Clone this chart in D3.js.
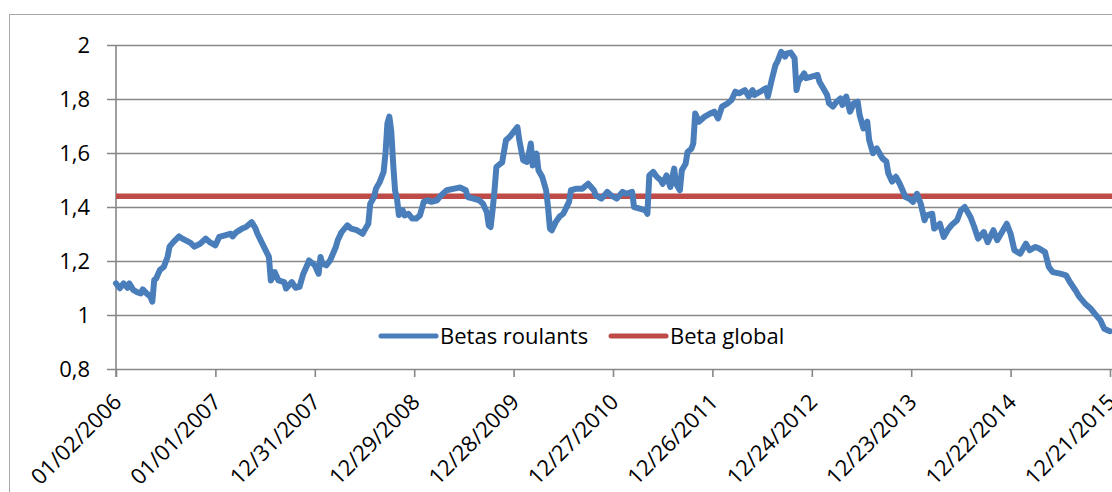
<!DOCTYPE html>
<html>
<head>
<meta charset="utf-8">
<script src="https://cdn.jsdelivr.net/npm/d3@7"></script>
<style>
  html, body { margin: 0; padding: 0; background: #fff; }
  svg { display: block; }
  text { font-family: "Open Sans", "Liberation Sans", sans-serif; fill: #000; }
</style>
</head>
<body>
<svg id="chart" width="1112" height="492"></svg>
<script>
// Weekly rolling betas, weeks counted from Monday 01/02/2006
const weekOffsets = [
  0, 2, 4, 6, 7, 9, 11, 13, 14, 16, 18, 19, 20, 21, 23, 25, 27, 28, 30, 33,
  34, 36, 39, 41, 44, 47, 49, 52, 54, 57, 60, 61, 63, 66, 68, 71, 73, 74, 77, 80,
  81, 83, 85, 88, 89, 92, 94, 96, 98, 100, 101, 104, 106, 107, 108, 110, 112, 115, 116, 118,
  121, 123, 126, 129, 130, 132, 133, 135, 136, 138, 140, 141, 142, 143, 144, 145, 146, 147, 148, 150,
  151, 153, 155, 157, 159, 161, 163, 165, 168, 170, 173, 177, 180, 183, 184, 187, 190, 192, 194, 195,
  196, 197, 198, 199, 201, 202, 204, 206, 208, 210, 211, 213, 215, 216, 217, 218, 220, 221, 223, 225,
  226, 227, 228, 230, 232, 234, 237, 238, 241, 244, 247, 250, 251, 254, 257, 259, 262, 265, 267, 270,
  271, 274, 277, 278, 279, 281, 283, 285, 286, 288, 290, 292, 293, 295, 296, 298, 299, 301, 302, 303,
  305, 306, 308, 311, 313, 315, 317, 320, 322, 324, 326, 329, 331, 333, 334, 337, 340, 341, 343, 345,
  346, 348, 350, 351, 353, 355, 356, 357, 360, 361, 364, 367, 368, 370, 372, 373, 375, 377, 379, 380,
  382, 384, 386, 388, 389, 391, 393, 394, 396, 398, 401, 403, 404, 406, 408, 410, 413, 415, 417, 419,
  421, 423, 424, 427, 428, 431, 433, 435, 437, 440, 442, 444, 445, 447, 449, 451, 454, 456, 459, 461,
  463, 466, 468, 470, 473, 476, 478, 481, 483, 486, 488, 490, 494, 497, 499, 502, 504, 507, 510, 512,
  515, 517, 519, 520
];
const betaValues = [
  1.117, 1.099, 1.117, 1.101, 1.117, 1.093, 1.085, 1.080, 1.095, 1.080, 1.068, 1.049, 1.130, 1.135, 1.167, 1.178, 1.216, 1.253, 1.270, 1.291,
  1.286, 1.278, 1.267, 1.253, 1.264, 1.283, 1.270, 1.258, 1.289, 1.295, 1.301, 1.291, 1.307, 1.320, 1.326, 1.344, 1.320, 1.301, 1.258, 1.215,
  1.128, 1.159, 1.128, 1.122, 1.098, 1.122, 1.101, 1.104, 1.153, 1.184, 1.202, 1.184, 1.153, 1.215, 1.190, 1.184, 1.202, 1.252, 1.277, 1.307,
  1.332, 1.320, 1.314, 1.301, 1.314, 1.338, 1.412, 1.437, 1.468, 1.493, 1.530, 1.600, 1.710, 1.735, 1.680, 1.560, 1.460, 1.430, 1.370, 1.388,
  1.369, 1.375, 1.357, 1.357, 1.369, 1.419, 1.425, 1.419, 1.425, 1.443, 1.462, 1.468, 1.472, 1.462, 1.437, 1.431, 1.425, 1.412, 1.381, 1.332,
  1.326, 1.388, 1.460, 1.548, 1.560, 1.565, 1.647, 1.660, 1.678, 1.696, 1.647, 1.573, 1.567, 1.598, 1.635, 1.554, 1.598, 1.536, 1.511, 1.462,
  1.400, 1.320, 1.314, 1.344, 1.364, 1.375, 1.419, 1.462, 1.468, 1.468, 1.486, 1.462, 1.443, 1.431, 1.456, 1.443, 1.431, 1.456, 1.449, 1.456,
  1.400, 1.394, 1.388, 1.375, 1.517, 1.530, 1.511, 1.499, 1.486, 1.517, 1.474, 1.542, 1.486, 1.462, 1.536, 1.560, 1.604, 1.616, 1.635, 1.746,
  1.716, 1.722, 1.735, 1.747, 1.753, 1.728, 1.772, 1.784, 1.796, 1.827, 1.821, 1.833, 1.809, 1.833, 1.815, 1.827, 1.840, 1.809, 1.870, 1.926,
  1.938, 1.975, 1.957, 1.969, 1.972, 1.951, 1.833, 1.864, 1.895, 1.877, 1.883, 1.889, 1.864, 1.840, 1.815, 1.784, 1.772, 1.790, 1.802, 1.778,
  1.809, 1.753, 1.784, 1.790, 1.741, 1.691, 1.716, 1.648, 1.599, 1.617, 1.580, 1.568, 1.525, 1.494, 1.512, 1.486, 1.437, 1.431, 1.419, 1.449,
  1.412, 1.351, 1.369, 1.375, 1.320, 1.338, 1.289, 1.314, 1.332, 1.351, 1.388, 1.400, 1.388, 1.363, 1.326, 1.283, 1.307, 1.270, 1.314, 1.277,
  1.301, 1.338, 1.301, 1.240, 1.227, 1.264, 1.240, 1.252, 1.246, 1.233, 1.178, 1.159, 1.153, 1.147, 1.122, 1.091, 1.067, 1.042, 1.023, 1.005,
  0.980, 0.949, 0.943, 0.940
];
const globalBeta = 1.44;

const seriesNames = ["Betas roulants", "Beta global"];
const seriesColors = ["#4a7ebb", "#be4b48"];

const yTicks = [0.8, 1, 1.2, 1.4, 1.6, 1.8, 2];
const xTickLabels = [
  "01/02/2006", "01/01/2007", "12/31/2007", "12/29/2008", "12/28/2009", "12/27/2010",
  "12/26/2011", "12/24/2012", "12/23/2013", "12/22/2014", "12/21/2015"
];

const parseDate = d3.timeParse("%m/%d/%Y");
const startDate = parseDate(xTickLabels[0]);
const dateOfWeek = w => d3.timeDay.offset(startDate, 7 * w);
const series = weekOffsets.map((w, i) => ({ date: dateOfWeek(w), value: betaValues[i] }));
const tickDates = xTickLabels.map(parseDate);

const svg = d3.select("#chart");
const W = 1112;
const plot = { left: 116, right: 1110, top: 45, bottom: 369 };
const fontSize = "22px";

const x = d3.scaleTime()
  .domain([startDate, tickDates[tickDates.length - 1]])
  .range([plot.left, plot.right]);
const y = d3.scaleLinear().domain([0.8, 2]).range([plot.bottom, plot.top]);

const gridColor = "#878787";
const fmt = v => d3.format("~g")(v).replace(".", ",");

// Chart frame
svg.append("rect")
  .attr("x", 9.5).attr("y", 14.5).attr("width", 1300).attr("height", 700)
  .attr("fill", "none").attr("stroke", "#a8a8a8").attr("stroke-width", 1);

// Horizontal gridlines with their left tick marks
const yAxis = d3.axisLeft(y)
  .tickValues(yTicks)
  .tickSize(-(W - plot.left + 2))
  .tickFormat(fmt);
const gy = svg.append("g").attr("transform", `translate(${plot.left},0)`).call(yAxis);
gy.select(".domain").remove();
gy.selectAll(".tick line")
  .attr("x1", -9)
  .attr("stroke", gridColor).attr("stroke-width", 1.6);
gy.selectAll(".tick text")
  .style("font-size", fontSize)
  .attr("x", 90 - plot.left)
  .attr("dy", "0.35em");

// Vertical axis line
svg.append("line")
  .attr("x1", plot.left).attr("x2", plot.left)
  .attr("y1", plot.top).attr("y2", plot.bottom + 8)
  .attr("stroke", gridColor).attr("stroke-width", 1.6);

// Date axis with rotated labels
const xAxis = d3.axisBottom(x)
  .tickValues(tickDates)
  .tickSize(8)
  .tickFormat((d, i) => xTickLabels[i]);
const gx = svg.append("g").attr("transform", `translate(0,${plot.bottom})`).call(xAxis);
gx.select(".domain").remove();
gx.selectAll(".tick line").attr("stroke", gridColor).attr("stroke-width", 1.6);
gx.selectAll(".tick text")
  .style("font-size", fontSize)
  .attr("text-anchor", "end")
  .attr("y", 0).attr("dy", "0.35em")
  .attr("transform", "translate(1,29) rotate(-45)");

// Global beta reference line
svg.append("line")
  .attr("x1", plot.left).attr("x2", W + 2)
  .attr("y1", y(globalBeta)).attr("y2", y(globalBeta))
  .attr("stroke", seriesColors[1]).attr("stroke-width", 5.5);

// Rolling beta series
const line = d3.line().x(d => x(d.date)).y(d => y(d.value));
svg.append("path")
  .datum(series)
  .attr("d", line)
  .attr("fill", "none")
  .attr("stroke", seriesColors[0])
  .attr("stroke-width", 6)
  .attr("stroke-linejoin", "round")
  .attr("stroke-linecap", "round");

// Legend
const legendItems = [
  { name: seriesNames[0], color: seriesColors[0], x: 381 },
  { name: seriesNames[1], color: seriesColors[1], x: 611 }
];
const lg = svg.append("g").attr("transform", "translate(0,336)");
legendItems.forEach(it => {
  lg.append("line")
    .attr("x1", it.x).attr("x2", it.x + 55)
    .attr("y1", 0).attr("y2", 0)
    .attr("stroke", it.color).attr("stroke-width", 5)
    .attr("stroke-linecap", "round");
  lg.append("text")
    .attr("x", it.x + 59).attr("y", 0).attr("dy", "0.35em")
    .style("font-size", fontSize)
    .text(it.name);
});
</script>
</body>
</html>
